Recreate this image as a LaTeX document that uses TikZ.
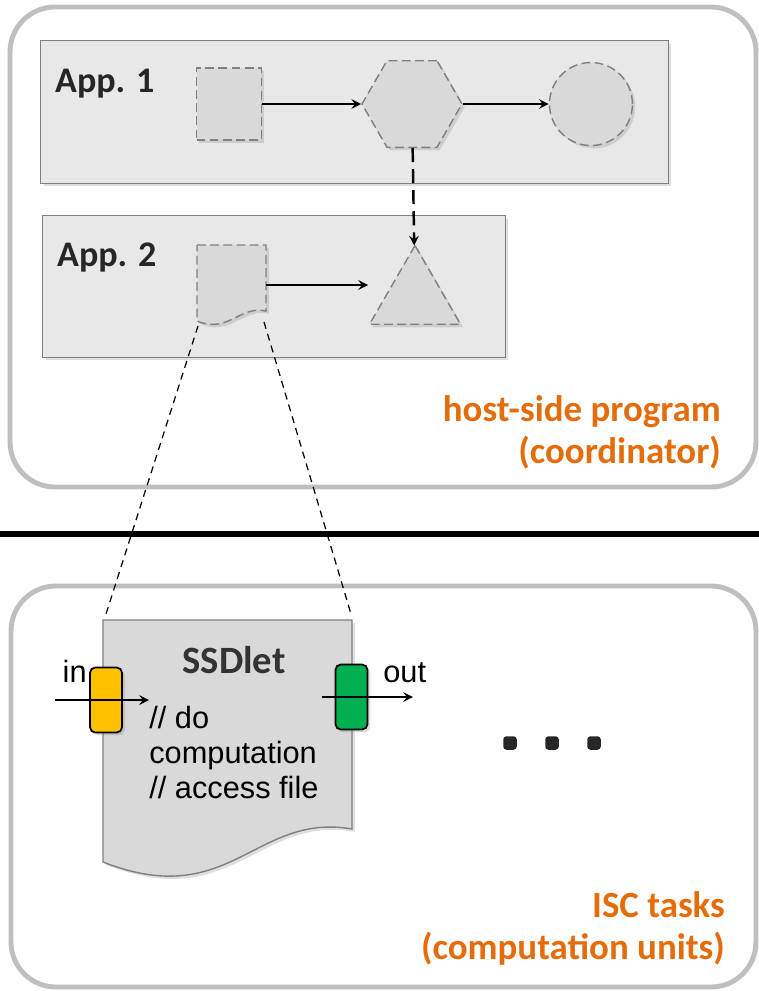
\documentclass[tikz,border=0pt]{standalone}
\usepackage{fontspec}
\setmainfont{Carlito}
\newfontfamily\codefont{Liberation Sans}
\usepackage{xcolor}
\usetikzlibrary{arrows}
\usetikzlibrary{shapes.geometric}
\usetikzlibrary{shadows}
\definecolor{regiongray}{HTML}{BFBFBF}
\definecolor{appfill}{HTML}{E8E8E8}
\definecolor{piecefill}{HTML}{D9D9D9}
\definecolor{edgegray}{HTML}{808080}
\definecolor{noteorange}{HTML}{E46C0A}
\definecolor{inyellow}{HTML}{FFC000}
\definecolor{outgreen}{HTML}{00B050}
\tikzset{>=stealth}

\begin{document}
\begin{tikzpicture}[x=0.02cm, y=-0.02cm]
                        % coordinates are pixels of the sketch, y grows downwards
                        \tikzstyle{region}=[draw=regiongray, line width=2.8pt, rounded corners=0.9cm]
                        \tikzstyle{soft}=[drop shadow={opacity=0.25, shadow xshift=1.6pt, shadow yshift=-1.6pt}]
                        \tikzstyle{appbox}=[draw=edgegray, fill=appfill, line width=0.8pt, soft, anchor=north west]
                        \tikzstyle{piece}=[draw=edgegray, fill=piecefill, line width=0.8pt, dash pattern=on 5pt off 2.5pt, inner sep=0pt, soft]
                        \tikzstyle{flow}=[->, black, line width=1.4pt]
                        \tikzstyle{apptitle}=[font=\bfseries\fontsize{20.5}{24}\selectfont, text=black!85, anchor=west]
                        \tikzstyle{note}=[font=\bfseries\fontsize{21}{23.5}\selectfont, text=noteorange, align=right, anchor=south east]
                        \tikzstyle{port}=[draw=black, line width=1pt, rounded corners=3pt, minimum width=0.64cm, minimum height=1.3cm, soft]
                        \tikzstyle{codetext}=[font=\codefont\fontsize{17.5}{19.8}\selectfont, text=black]
                        \tikzstyle{linkline}=[black, line width=0.7pt, dash pattern=on 4pt off 3pt]

                        \useasboundingbox (0,0) rectangle (759,991);

                        % host side
                        \draw[region] (10,7) rectangle (756,487);
                        \node[appbox, minimum width=12.56cm, minimum height=2.86cm] (app1) at (40,40) {};
                        \node[apptitle] (app1lbl) at (49,84) {App. 1};
                        \node[piece, minimum width=1.3cm, minimum height=1.44cm] (sq) at (229,104) {};
                        \node[piece, regular polygon, regular polygon sides=6, minimum size=2cm] (hex) [right of = sq, node distance=3.66cm] {};
                        \node[piece, circle, minimum size=1.66cm] (circ) [right of = hex, node distance=3.58cm] {};
                        \draw[flow] (sq) -- (hex);
                        \draw[flow] (hex) -- (circ);

                        \node[appbox, minimum width=9.26cm, minimum height=2.84cm] (app2) at (42,215) {};
                        \node[apptitle] (app2lbl) at (51,258) {App. 2};
                        \filldraw[piece] (197,245) -- (266,245) -- (266,311)
                                .. controls (240,305) and (228,334) .. (197,321) -- cycle;
                        \node[minimum width=1.38cm, minimum height=1.6cm] (doc) at (231.5,285) {};
                        \node[piece, regular polygon, regular polygon sides=3, minimum size=2.1cm] (tri) at (415,298) {};
                        \draw[flow, shorten >=9pt] (doc) -- (doc -| tri.west);
                        \draw[flow, dash pattern=on 8pt off 4pt] (hex) -- (tri);

                        \node[note] (hostlbl) at (727,475) {host-side program\\(coordinator)};

                        \draw[line width=3.2pt] (0,534) -- (759,534);

                        % device side
                        \draw[region] (11,586) rectangle (756,987);

                        \coordinate (docbl) at (198,326);
                        \coordinate (docbr) at (264,322);
                        \coordinate (ssdtl) at (106,614);
                        \coordinate (ssdtr) at (351,614);
                        \draw[linkline] (docbl) -- (ssdtl);
                        \draw[linkline] (docbr) -- (ssdtr);

                        \filldraw[draw=edgegray, fill=piecefill, line width=0.8pt, soft] (103,620) -- (352,620) -- (352,829)
                                .. controls (255,812) and (230,912) .. (103,862) -- cycle;
                        \node[font=\bfseries\fontsize{22}{24}\selectfont, text=black!80, anchor=base] (ssdlbl) at (234,673) {SSDlet};
                        \node[codetext, align=left, anchor=north west, inner sep=0pt] (code) at (149,706) {// do\\computation\\// access file};

                        \node[port, fill=inyellow] (inport) at (106,700) {};
                        \node[port, fill=outgreen] (outport) at (351.5,697) {};
                        \node[codetext, anchor=base east, inner sep=0pt] (inlbl) at (87,682) {in};
                        \node[codetext, anchor=base west, inner sep=0pt] (outlbl) at (383,682) {out};
                        \coordinate (infree) at (55,700);
                        \coordinate (outfree) at (413,697);
                        \draw[flow] (infree) -- (infree -| code.west);
                        \draw[flow, shorten <=-7pt] (outport.west) -- (outfree);

                        \foreach \x [count=\i] in {510,552,594}
                                \node[fill=black!85, rounded corners=1.8pt, minimum size=0.27cm, inner sep=0pt] (dot\i) at (\x,743) {};

                        \node[note] (isclbl) at (731,971) {ISC tasks\\(computation units)};
                \end{tikzpicture}
\end{document}
